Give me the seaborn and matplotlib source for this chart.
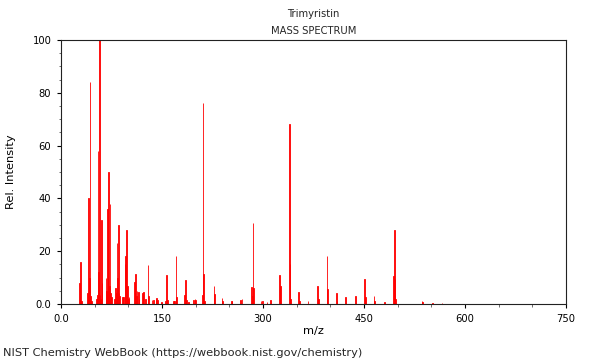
# Trimyristin mass spectrum (NIST style) redrawn with seaborn

import pandas as pd
import seaborn as sns
import matplotlib
matplotlib.use("Agg")
import matplotlib.pyplot as plt
from matplotlib.ticker import MultipleLocator

compound = "Trimyristin"
chart_title = "MASS SPECTRUM"
source_note = "NIST Chemistry WebBook (https://webbook.nist.gov/chemistry)"

# peaks: m/z and relative intensity
mz = [27, 28, 29, 30, 39, 40, 41, 42, 43, 44, 45, 53, 54, 55, 56, 57, 58, 59,
      60, 61, 67, 68, 69, 70, 71, 72, 73, 74, 75, 79, 81, 82, 83, 84, 85, 86,
      87, 91, 93, 95, 96, 97, 98, 99, 100, 101, 109, 110, 111, 112, 113, 115,
      116, 121, 123, 125, 129, 130, 135, 137, 141, 142, 143, 149, 155, 157,
      158, 167, 169, 171, 172, 183, 185, 186, 189, 197, 199, 200, 210, 211,
      212, 213, 227, 228, 239, 240, 253, 254, 267, 269, 283, 284, 285, 286,
      297, 299, 306, 311, 325, 326, 339, 340, 341, 353, 354, 367, 381, 382,
      395, 396, 409, 410, 423, 437, 451, 452, 465, 466, 480, 494, 495, 496,
      497, 536, 537, 552, 566]
intensity = [8, 2.8, 16, 1, 4, 1, 40, 9.7, 84, 3, 1.2, 2, 3.5, 58, 12, 100, 3.5, 2,
             32, 8, 10, 5, 36, 8, 50, 7, 38, 4, 2.5, 2, 6, 4, 23, 10, 30, 4,
             3, 2.5, 2.5, 15, 18, 28, 6, 7, 2, 2.5, 8.5, 4, 11.5, 3, 5, 4.5,
             2, 4, 4.5, 2, 14.8, 3, 1.5, 1.5, 2, 2.3, 1.5, 0.7, 1, 11,
             1.5, 1, 1, 18, 2.5, 3.4, 9, 1.5, 0.6, 1.5, 2, 1.5, 3.5, 76,
             11.5, 1.2, 7, 3.6, 2.3, 1, 1.3, 1.3, 1.5, 2, 6.5, 3, 30.5, 6,
             1.3, 1.2, 0.8, 1.4, 11, 6.7, 68, 15, 2, 4.7, 1, 1.3, 7, 2,
             18, 5.5, 4, 1, 2.5, 3, 9.3, 2.8, 3, 1, 0.8, 10.5, 28, 9.3,
             2, 1, 0.6, 0.3, 0.2]

x_ticks = [0, 150, 300, 450, 600, 750]
x_tick_labels = ["0.0", "150", "300", "450", "600", "750"]
y_ticks = [0, 20, 40, 60, 80, 100]
y_tick_labels = ["0.0", "20", "40", "60", "80", "100"]

sns.set_style("ticks")
plt.rcParams['font.family'] = ['DejaVu Sans']
plt.rcParams['font.size'] = 7.2

spec = pd.DataFrame({'mz': mz, 'intensity': intensity})

fig = plt.figure(figsize=(6, 3.6), dpi=100)
ax = fig.add_axes([61 / 600, 56 / 360, 505 / 600, 264 / 360])

sns.histplot(data=spec, x='mz', weights='intensity', discrete=True,
             color='red', alpha=1, edgecolor='red', linewidth=0.6, ax=ax)

ax.set_xlim(0, 750)
ax.set_ylim(0, 100)
ax.set_xticks(x_ticks)
ax.set_xticklabels(x_tick_labels)
ax.set_yticks(y_ticks)
ax.set_yticklabels(y_tick_labels)
ax.xaxis.set_minor_locator(MultipleLocator(50))
ax.yaxis.set_minor_locator(MultipleLocator(5))
ax.tick_params(which='major', direction='out', length=3, width=0.8,
               color='black', labelcolor='black', labelsize=7.2, pad=4)
ax.tick_params(which='minor', direction='out', length=1.8, width=0.6,
               color='#555555')
for side in ['top', 'right', 'left', 'bottom']:
    ax.spines[side].set_visible(True)
    ax.spines[side].set_color('#222222')
    ax.spines[side].set_linewidth(0.8)

ax.set_xlabel("m/z", fontsize=8.2, color='black')
ax.set_ylabel("Rel. Intensity", fontsize=8.2, color='black')
ax.xaxis.set_label_coords(0.5, -0.085)
ax.yaxis.set_label_coords(-0.09, 0.5)

fig.text(313.5 / 600, 1 - 14 / 360, compound, ha='center', va='center', fontsize=7.2)
fig.text(313.5 / 600, 1 - 31 / 360, chart_title, ha='center', va='center', fontsize=7.2)
fig.text(3 / 600, 1 - 353 / 360, source_note, ha='left', va='center', fontsize=8.2)

fig.savefig("out.png", dpi=100)
